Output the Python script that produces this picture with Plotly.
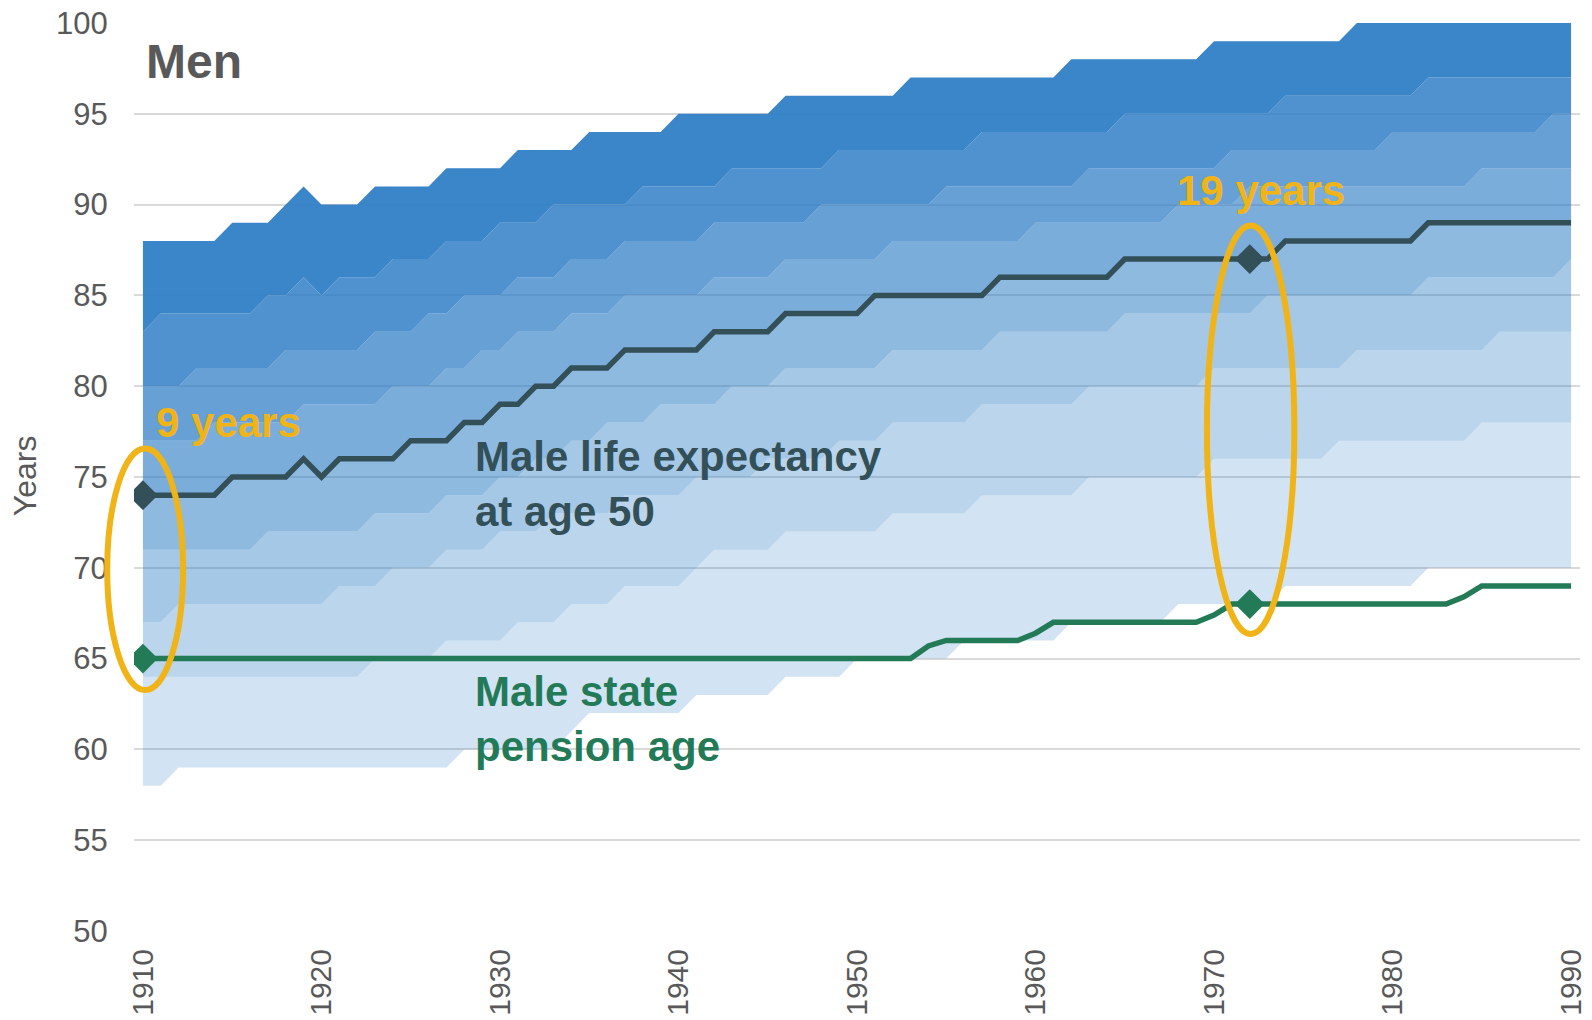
import plotly.graph_objects as go

years = list(range(1910, 1991))

# Distribution boundaries (years), lowest to highest, one value per year 1910..1990
band_b1 = [58, 58, 59, 59, 59, 59, 59, 59, 59, 59,
           59, 59, 59, 59, 59, 59, 59, 59, 60, 60,
           60, 60, 60, 60, 61, 62, 62, 62, 62, 62,
           62, 63, 63, 63, 63, 63, 64, 64, 64, 64,
           65, 65, 65, 65, 65, 65, 66, 66, 66, 66,
           66, 66, 67, 67, 67, 67, 67, 67, 68, 68,
           68, 68, 68, 68, 69, 69, 69, 69, 69, 69,
           69, 69, 70, 70, 70, 70, 70, 70, 70, 70,
           70]
band_b2 = [64, 64, 64, 64, 64, 64, 64, 64, 64, 64,
           64, 64, 64, 65, 65, 65, 65, 66, 66, 66,
           66, 67, 67, 67, 68, 68, 68, 69, 69, 69,
           69, 70, 71, 71, 71, 71, 72, 72, 72, 72,
           72, 72, 73, 73, 73, 73, 73, 74, 74, 74,
           74, 74, 74, 75, 75, 75, 75, 75, 75, 75,
           76, 76, 76, 76, 76, 76, 76, 77, 77, 77,
           77, 77, 77, 77, 77, 78, 78, 78, 78, 78,
           78]
band_b3 = [67, 67, 68, 68, 68, 68, 68, 68, 68, 68,
           68, 69, 69, 69, 70, 70, 70, 71, 71, 71,
           72, 72, 72, 73, 73, 73, 73, 74, 74, 74,
           74, 75, 75, 75, 75, 76, 76, 76, 76, 77,
           77, 77, 78, 78, 78, 78, 78, 79, 79, 79,
           79, 79, 79, 80, 80, 80, 80, 80, 80, 80,
           81, 81, 81, 81, 81, 81, 81, 81, 82, 82,
           82, 82, 82, 82, 82, 82, 83, 83, 83, 83,
           83]
band_b4 = [71, 71, 71, 71, 71, 71, 71, 72, 72, 72,
           72, 72, 72, 73, 73, 73, 73, 74, 74, 74,
           75, 75, 76, 76, 77, 77, 78, 78, 78, 79,
           79, 79, 79, 80, 80, 80, 81, 81, 81, 81,
           81, 81, 82, 82, 82, 82, 82, 82, 83, 83,
           83, 83, 83, 83, 83, 84, 84, 84, 84, 84,
           84, 84, 84, 85, 85, 85, 85, 85, 85, 85,
           85, 85, 86, 86, 86, 86, 86, 86, 86, 86,
           87]
life_exp_50 = [74, 74, 74, 74, 74, 75, 75, 75, 75, 76,
               75, 76, 76, 76, 76, 77, 77, 77, 78, 78,
               79, 79, 80, 80, 81, 81, 81, 82, 82, 82,
               82, 82, 83, 83, 83, 83, 84, 84, 84, 84,
               84, 85, 85, 85, 85, 85, 85, 85, 86, 86,
               86, 86, 86, 86, 86, 87, 87, 87, 87, 87,
               87, 87, 87, 87, 88, 88, 88, 88, 88, 88,
               88, 88, 89, 89, 89, 89, 89, 89, 89, 89,
               89]
band_b6 = [77, 77, 77, 77, 78, 78, 78, 78, 78, 79,
           79, 79, 79, 79, 80, 80, 80, 81, 81, 82,
           82, 83, 83, 83, 84, 84, 84, 85, 85, 85,
           85, 85, 86, 86, 86, 86, 87, 87, 87, 87,
           87, 87, 88, 88, 88, 88, 88, 88, 88, 88,
           89, 89, 89, 89, 89, 89, 89, 89, 90, 90,
           90, 90, 91, 91, 91, 91, 91, 91, 91, 91,
           91, 91, 91, 91, 91, 92, 92, 92, 92, 92,
           92]
band_b7 = [80, 80, 80, 81, 81, 81, 81, 81, 82, 82,
           82, 82, 82, 83, 83, 83, 84, 84, 85, 85,
           85, 86, 86, 86, 87, 87, 87, 88, 88, 88,
           88, 88, 89, 89, 89, 89, 89, 89, 90, 90,
           90, 90, 90, 90, 90, 91, 91, 91, 91, 91,
           91, 91, 91, 92, 92, 92, 92, 92, 92, 92,
           92, 93, 93, 93, 93, 93, 93, 93, 93, 93,
           94, 94, 94, 94, 94, 94, 94, 94, 94, 95,
           95]
band_b8 = [83, 84, 84, 84, 84, 84, 84, 85, 85, 86,
           85, 86, 86, 86, 87, 87, 87, 88, 88, 88,
           89, 89, 89, 90, 90, 90, 90, 90, 91, 91,
           91, 91, 91, 92, 92, 92, 92, 92, 92, 93,
           93, 93, 93, 93, 93, 93, 93, 94, 94, 94,
           94, 94, 94, 94, 94, 95, 95, 95, 95, 95,
           95, 95, 95, 95, 96, 96, 96, 96, 96, 96,
           96, 96, 97, 97, 97, 97, 97, 97, 97, 97,
           97]
band_b9 = [88, 88, 88, 88, 88, 89, 89, 89, 90, 91,
           90, 90, 90, 91, 91, 91, 91, 92, 92, 92,
           92, 93, 93, 93, 93, 94, 94, 94, 94, 94,
           95, 95, 95, 95, 95, 95, 96, 96, 96, 96,
           96, 96, 96, 97, 97, 97, 97, 97, 97, 97,
           97, 97, 98, 98, 98, 98, 98, 98, 98, 98,
           99, 99, 99, 99, 99, 99, 99, 99, 100, 100,
           100, 100, 100, 100, 100, 100, 100, 100, 100, 100,
           100]
pension_age = [
    65, 65, 65, 65, 65, 65, 65, 65, 65, 65,
    65, 65, 65, 65, 65, 65, 65, 65, 65, 65,
    65, 65, 65, 65, 65, 65, 65, 65, 65, 65,
    65, 65, 65, 65, 65, 65, 65, 65, 65, 65,
    65, 65, 65, 65, 65.7, 66, 66, 66, 66, 66,
    66.4, 67, 67, 67, 67, 67, 67, 67, 67, 67,
    67.4, 68, 68, 68, 68, 68, 68, 68, 68, 68,
    68, 68, 68, 68, 68.4, 69, 69, 69, 69, 69,
    69]

highlight_years = [1910, 1972]
x_ticks = [1910, 1920, 1930, 1940, 1950, 1960, 1970, 1980, 1990]
y_ticks = [50, 55, 60, 65, 70, 75, 80, 85, 90, 95, 100]

boundaries = [band_b1, band_b2, band_b3, band_b4, life_exp_50,
              band_b6, band_b7, band_b8, band_b9]
band_alpha = [0.21, 0.32, 0.42, 0.53, 0.625, 0.72, 0.83, 0.93]

FONT = "Liberation Sans, Arial, sans-serif"
GREY = "#595959"
SLATE = "#334F58"
GREEN = "#237A57"
ORANGE = "#F0B418"

fig = go.Figure()

for i, b in enumerate(boundaries):
    fig.add_trace(go.Scatter(
        x=years, y=b, mode="lines", line=dict(width=0),
        fill=None if i == 0 else "tonexty",
        fillcolor=None if i == 0 else f"rgba(44,124,197,{band_alpha[i-1]})",
        hoverinfo="skip", showlegend=False))

fig.add_trace(go.Scatter(x=years, y=pension_age, mode="lines",
                         line=dict(color=GREEN, width=5.5), showlegend=False))
fig.add_trace(go.Scatter(x=years, y=life_exp_50, mode="lines",
                         line=dict(color=SLATE, width=5.5), showlegend=False))

idx = [years.index(y) for y in highlight_years]
fig.add_trace(go.Scatter(x=highlight_years, y=[pension_age[i] for i in idx],
                         mode="markers",
                         marker=dict(symbol="diamond", size=23, color=GREEN),
                         showlegend=False))
fig.add_trace(go.Scatter(x=highlight_years, y=[life_exp_50[i] for i in idx],
                         mode="markers",
                         marker=dict(symbol="diamond", size=23, color=SLATE),
                         showlegend=False))

x_range = [1909.5, 1990.5]
y_range = [50, 100]


def px(x):
    return (x - x_range[0]) / (x_range[1] - x_range[0])


def py(y):
    return (y - y_range[0]) / (y_range[1] - y_range[0])


# Ellipses around the gaps (padding around marker pairs)
for yr, (x0, x1), (pad_lo, pad_hi) in [(1910, (-2.0, 2.25), (1.73, 2.57)),
                                       (1972, (-2.4, 2.5), (1.64, 1.85))]:
    i = years.index(yr)
    lo, hi = pension_age[i], life_exp_50[i]
    fig.add_shape(type="circle", xref="paper", yref="paper",
                  x0=px(yr + x0), x1=px(yr + x1),
                  y0=py(lo - pad_lo), y1=py(hi + pad_hi),
                  line=dict(color=ORANGE, width=6), layer="above")

fig.add_annotation(x=1910.05, y=97.9, xref="x", yref="y", text="<b>Men</b>",
                   showarrow=False, xanchor="left", yanchor="middle",
                   font=dict(family=FONT, size=48, color=GREY))
fig.add_annotation(x=1910.6, y=78.0, text="<b>9 years</b>", showarrow=False,
                   xanchor="left", yanchor="middle",
                   font=dict(family=FONT, size=42, color=ORANGE))
fig.add_annotation(x=1967.8, y=90.8, text="<b>19 years</b>", showarrow=False,
                   xanchor="left", yanchor="middle",
                   font=dict(family=FONT, size=42, color=ORANGE))
fig.add_annotation(x=1928.5, y=74.6, text="<b>Male life expectancy<br>at age 50</b>",
                   showarrow=False, xanchor="left", yanchor="middle", align="left",
                   font=dict(family=FONT, size=42, color=SLATE))
fig.add_annotation(x=1928.5, y=61.7, text="<b>Male state<br>pension age</b>",
                   showarrow=False, xanchor="left", yanchor="middle", align="left",
                   font=dict(family=FONT, size=42, color=GREEN))
fig.add_annotation(x=-0.0754, y=0.502, xref="paper", yref="paper", text="Years",
                   showarrow=False, textangle=-90, xanchor="center", yanchor="middle",
                   font=dict(family=FONT, size=32, color=GREY))

# The page body adds an 8px offset, so the figure is sized to end at the window edge
fig.update_layout(
    width=1584, height=1012,
    margin=dict(l=126, r=12, t=15, b=89, autoexpand=False),
    paper_bgcolor="white", plot_bgcolor="white",
    font=dict(family=FONT, color=GREY),
    xaxis=dict(range=x_range, tickvals=x_ticks, tickangle=-90,
               showgrid=False, zeroline=False, showline=False, automargin=False,
               ticks="outside", ticklen=5, tickcolor="rgba(0,0,0,0)",
               ticklabeloverflow="allow",
               tickfont=dict(family=FONT, size=30, color=GREY)),
    yaxis=dict(range=y_range, tickvals=y_ticks, showgrid=True,
               gridcolor="#D9D9D9", gridwidth=1.5, zeroline=False,
               showline=False, automargin=False, ticks="outside", ticklen=19,
               tickcolor="rgba(0,0,0,0)", ticklabeloverflow="allow",
               tickfont=dict(family=FONT, size=31, color=GREY)),
)

fig.write_html("out.html")
